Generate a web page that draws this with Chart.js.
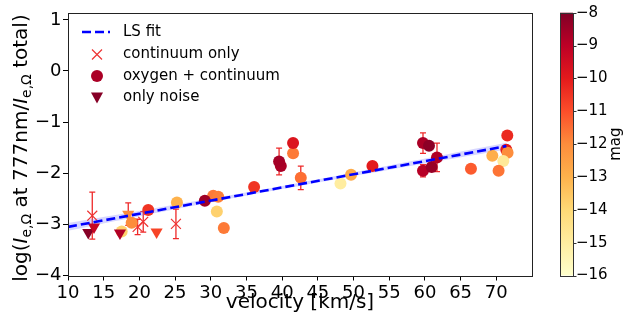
<!DOCTYPE html>
<html>
<head>
<meta charset="utf-8">
<script src="https://cdn.jsdelivr.net/npm/chart.js@4.4.0/dist/chart.umd.min.js"></script>
<style>
  html, body { margin: 0; padding: 0; background: #fff; }
  #wrap { position: relative; width: 627px; height: 322px; }
</style>
</head>
<body>
<div id="wrap"><canvas id="magChart" width="627" height="322"></canvas></div>
<script>
const FONT = "'DejaVu Sans', sans-serif";

// continuum only (x markers)
const contVel = [13.4, 19.75, 20.54, 25.12];
const contLog = [-2.83, -3.05, -2.95, -2.99];
const contErr = [0.46, 0.15, 0.2, 0.29];

// only noise (down triangles)
const noiseVel = [12.84, 13.64, 17.28, 18.44, 22.41];
const noiseLog = [-3.16, -3.05, -3.17, -2.80, -3.15];
const noiseErr = [0, 0, 0, 0.22, 0];
const noiseMag = [-8.1, -9.2, -8.8, -12.0, -10.8];

// oxygen + continuum (circles), in plotting order
const oxyVel = [17.52, 18.92, 21.24, 25.26, 30.34, 31.04, 29.17, 30.85, 31.83, 36.07,
                39.81, 39.57, 41.53, 41.53, 42.61, 48.17, 49.65, 52.65,
                59.73, 60.57, 59.73, 60.95, 61.69, 66.45, 69.44, 71.54, 71.40, 71.58, 70.98, 70.32];
const oxyLog = [-3.14, -2.97, -2.72, -2.57, -2.44, -2.46, -2.54, -2.75, -3.07, -2.27,
                -1.86, -1.77, -1.61, -1.41, -2.09, -2.20, -2.03, -1.86,
                -1.41, -1.46, -1.95, -1.88, -1.69, -1.91, -1.66, -1.26, -1.54, -1.60, -1.76, -1.95];
const oxyErr = [0, 0, 0, 0, 0, 0, 0, 0, 0, 0,
                0, 0.26, 0, 0, 0.23, 0, 0, 0,
                0.2, 0, 0.12, 0, 0.28, 0, 0, 0, 0, 0, 0, 0];
const oxyMag = [-13.8, -12.0, -10.5, -13.0, -11.7, -11.8, -8.5, -13.8, -11.7, -10.5,
                -8.7, -8.6, -11.7, -9.8, -11.5, -15.0, -12.8, -10.0,
                -8.7, -8.2, -8.9, -8.4, -8.8, -11.2, -12.9, -10.3, -10.0, -12.0, -14.8, -11.6];

// least-squares fit and its uncertainty band
const fitVel = [10, 71.4];
const fitLog = [-3.05, -1.47];
const bandVel = [10, 25, 40, 55, 71.4];
const bandHi = [-2.975, -2.615, -2.25, -1.85, -1.405];
const bandLo = [-3.125, -2.705, -2.31, -1.93, -1.535];

const xTicks = [10, 15, 20, 25, 30, 35, 40, 45, 50, 55, 60, 65, 70];
const yTicks = [-4, -3, -2, -1, 0, 1];
const magTicks = [-16, -15, -14, -13, -12, -11, -10, -9, -8];
const MAG_MIN = -16, MAG_MAX = -8;

// YlOrRd colormap
const ylOrRd = [[255,255,204],[255,237,160],[254,217,118],[254,178,76],[253,141,60],
                [252,78,42],[227,26,28],[189,0,38],[128,0,38]];
function magColor(m) {
  let t = Math.max(0, Math.min(1, (m - MAG_MIN) / (MAG_MAX - MAG_MIN))) * 8;
  const i = Math.min(7, Math.floor(t)), f = t - i;
  const a = ylOrRd[i], b = ylOrRd[i + 1];
  const c = a.map((v, k) => Math.round(v + (b[k] - v) * f));
  return `rgb(${c[0]},${c[1]},${c[2]})`;
}

const pts = (xs, ys) => xs.map((x, i) => ({ x, y: ys[i] }));
const minus = v => String(v).replace('-', '\u2212');

const ERR_COLOR = '#ee2a2a';
const CROSS_COLOR = '#ee3333';

const decor = {
  id: 'decor',
  beforeDatasetsDraw(chart) {
    // error bars
    const { ctx, scales: { x, y } } = chart;
    ctx.save();
    ctx.strokeStyle = ERR_COLOR;
    ctx.lineWidth = 1.3;
    chart.data.datasets.forEach(ds => {
      if (!ds.errs) return;
      ds.data.forEach((p, i) => {
        const e = ds.errs[i];
        if (!e) return;
        const px = x.getPixelForValue(p.x);
        const y1 = y.getPixelForValue(p.y + e), y2 = y.getPixelForValue(p.y - e);
        ctx.beginPath();
        ctx.moveTo(px, y1); ctx.lineTo(px, y2);
        ctx.moveTo(px - 3, y1); ctx.lineTo(px + 3, y1);
        ctx.moveTo(px - 3, y2); ctx.lineTo(px + 3, y2);
        ctx.stroke();
      });
    });
    ctx.restore();
  },
  afterDraw(chart) {
    const { ctx, chartArea: a } = chart;
    ctx.save();

    // axes frame
    ctx.strokeStyle = '#222';
    ctx.lineWidth = 1;
    ctx.strokeRect(Math.round(a.left) + 0.5, Math.round(a.top) + 0.5,
                   Math.round(a.right - a.left), Math.round(a.bottom - a.top));

    // colorbar
    const cb = chart.scales.cb;
    const cbL = 560, cbW = 13;
    const top = cb.getPixelForValue(MAG_MAX), bot = cb.getPixelForValue(MAG_MIN);
    const g = ctx.createLinearGradient(0, bot, 0, top);
    ylOrRd.forEach((c, i) => g.addColorStop(i / 8, `rgb(${c[0]},${c[1]},${c[2]})`));
    ctx.fillStyle = g;
    ctx.fillRect(cbL, top, cbW, bot - top);
    ctx.strokeStyle = '#333';
    ctx.strokeRect(cbL + 0.5, Math.round(top) + 0.5, cbW, Math.round(bot - top));
    ctx.beginPath();
    magTicks.forEach(v => {
      const py = Math.round(cb.getPixelForValue(v)) + 0.5;
      ctx.moveTo(cbL + cbW, py); ctx.lineTo(cbL + cbW + 3.5, py);
    });
    ctx.stroke();

    // colorbar label
    ctx.fillStyle = '#000';
    ctx.save();
    ctx.translate(616, (top + bot) / 2);
    ctx.rotate(-Math.PI / 2);
    ctx.font = `15px ${FONT}`;
    ctx.textAlign = 'center';
    ctx.textBaseline = 'middle';
    ctx.fillText('mag', 0, 0);
    ctx.restore();

    // x axis title
    ctx.font = `20px ${FONT}`;
    ctx.textAlign = 'center';
    ctx.textBaseline = 'middle';
    ctx.fillText('velocity [km/s]', (a.left + a.right) / 2, 303);

    // y axis title with italic I and subscripts
    const parts = [['log(', 'n'], ['I', 'i'], ['e,\u03A9', 's'], [' at 777nm/', 'n'],
                   ['I', 'i'], ['e,\u03A9', 's'], [' total)', 'n']];
    const fontOf = k => k === 'i' ? `italic 20px ${FONT}` : k === 's' ? `14px ${FONT}` : `20px ${FONT}`;
    let total = 0;
    parts.forEach(([t, k]) => { ctx.font = fontOf(k); total += ctx.measureText(t).width; });
    ctx.save();
    ctx.translate(20, 148);
    ctx.rotate(-Math.PI / 2);
    ctx.textAlign = 'left';
    ctx.textBaseline = 'alphabetic';
    let cx = -total / 2;
    parts.forEach(([t, k]) => {
      ctx.font = fontOf(k);
      ctx.fillText(t, cx, k === 's' ? 11 : 7);
      cx += ctx.measureText(t).width;
    });
    ctx.restore();

    // legend
    const lx = 97, tx = 123;
    const rows = [32, 54.5, 76, 97.5];
    ctx.strokeStyle = '#0000ff';
    ctx.lineWidth = 2.6;
    ctx.setLineDash([9, 4]);
    ctx.beginPath(); ctx.moveTo(82, rows[0]); ctx.lineTo(110, rows[0]); ctx.stroke();
    ctx.setLineDash([]);
    ctx.strokeStyle = CROSS_COLOR;
    ctx.lineWidth = 1.2;
    ctx.beginPath();
    ctx.moveTo(lx - 5, rows[1] - 5); ctx.lineTo(lx + 5, rows[1] + 5);
    ctx.moveTo(lx - 5, rows[1] + 5); ctx.lineTo(lx + 5, rows[1] - 5);
    ctx.stroke();
    ctx.fillStyle = magColor(-8.7);
    ctx.beginPath(); ctx.arc(lx, rows[2], 6, 0, Math.PI * 2); ctx.fill();
    ctx.fillStyle = magColor(-8.1);
    ctx.beginPath();
    ctx.moveTo(lx - 6, rows[3] - 5); ctx.lineTo(lx + 6, rows[3] - 5); ctx.lineTo(lx, rows[3] + 6);
    ctx.closePath(); ctx.fill();
    ctx.fillStyle = '#000';
    ctx.font = `15px ${FONT}`;
    ctx.textAlign = 'left';
    ctx.textBaseline = 'middle';
    ['LS fit', 'continuum only', 'oxygen + continuum', 'only noise']
      .forEach((t, i) => ctx.fillText(t, tx, rows[i]));

    ctx.restore();
  }
};

new Chart(document.getElementById('magChart'), {
  type: 'scatter',
  data: {
    datasets: [
      {
        label: 'LS fit', data: pts(fitVel, fitLog), showLine: true,
        borderColor: '#0000ff', borderWidth: 2.6, borderDash: [9, 4],
        pointRadius: 0, fill: false, order: 0
      },
      {
        label: 'only noise', data: pts(noiseVel, noiseLog), errs: noiseErr,
        pointStyle: 'triangle', pointRotation: 180, pointRadius: 7,
        pointBackgroundColor: noiseMag.map(magColor), pointBorderWidth: 0, order: 1
      },
      {
        label: 'oxygen + continuum', data: pts(oxyVel, oxyLog), errs: oxyErr,
        pointStyle: 'circle', pointRadius: 6,
        pointBackgroundColor: oxyMag.map(magColor), pointBorderWidth: 0, order: 2
      },
      {
        label: 'continuum only', data: pts(contVel, contLog), errs: contErr,
        pointStyle: 'crossRot', pointRadius: 7,
        pointBorderColor: CROSS_COLOR, pointBorderWidth: 1.2, order: 3
      },
      {
        label: 'band hi', data: pts(bandVel, bandHi), showLine: true, tension: 0.4,
        borderWidth: 0, pointRadius: 0, fill: '+1',
        backgroundColor: 'rgba(110,110,255,0.28)', order: 4
      },
      {
        label: 'band lo', data: pts(bandVel, bandLo), showLine: true, tension: 0.4,
        borderWidth: 0, pointRadius: 0, fill: false, order: 4
      }
    ]
  },
  options: {
    responsive: false,
    animation: false,
    events: [],
    devicePixelRatio: 1,
    layout: { padding: { left: 0, right: 0, top: 12.7, bottom: 0 } },
    plugins: { legend: { display: false }, tooltip: { enabled: false } },
    scales: {
      x: {
        type: 'linear', min: 10, max: 75,
        afterBuildTicks: s => { s.ticks = xTicks.map(v => ({ value: v })); },
        afterFit: s => { s.height = 46.5; },
        grid: { drawOnChartArea: false, tickLength: 5, color: '#000', lineWidth: 1 },
        border: { display: false },
        ticks: { autoSkip: false, maxRotation: 0, padding: 2, color: '#000',
                 font: { family: FONT, size: 18 } }
      },
      y: {
        type: 'linear', min: -4, max: 1.14,
        afterBuildTicks: s => { s.ticks = yTicks.map(v => ({ value: v })); },
        afterFit: s => { s.width = 68; },
        grid: { drawOnChartArea: false, tickLength: 5, color: '#000', lineWidth: 1 },
        border: { display: false },
        ticks: { padding: 1.5, color: '#000', callback: minus,
                 font: { family: FONT, size: 18 } }
      },
      cb: {
        // colorbar scale: labels pushed out past the bar by an invisible tick length
        type: 'linear', axis: 'y', position: 'right', min: MAG_MIN, max: MAG_MAX,
        afterBuildTicks: s => { s.ticks = magTicks.map(v => ({ value: v })); },
        afterFit: s => { s.width = 95; },
        grid: { display: true, drawOnChartArea: false, drawTicks: true, tickLength: 44,
                color: 'rgba(0,0,0,0)' },
        border: { display: false },
        ticks: { padding: 0, color: '#000', callback: minus,
                 font: { family: FONT, size: 15 } }
      }
    }
  },
  plugins: [decor]
});
</script>
</body>
</html>
